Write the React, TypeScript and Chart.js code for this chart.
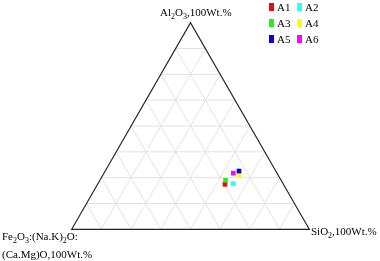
import React, { useEffect, useRef } from "react";
import { Chart, registerables } from "chart.js";

Chart.register(...registerables);

// Sample labels and ternary compositions (wt.%)
const sampleNames = ["A1", "A2", "A3", "A4", "A5", "A6"];
const al2o3 = [21.8, 22.1, 23.7, 26.3, 28.2, 27.2];
const sio2 = [53.6, 56.9, 52.9, 57.2, 56.3, 54.4];
const feNaCaMg = [24.6, 21.0, 23.4, 16.5, 15.5, 18.4];
const sampleColors = ["#ff0000", "#22ffff", "#22ee22", "#ffff00", "#0000ee", "#ff00ff"];

// grid fractions (ternary grid every 12.5%)
const gridFractions = [0.125, 0.25, 0.375, 0.5, 0.625, 0.75, 0.875];

// axis labels ("_n" marks a subscript digit)
const topLabel = "Al_2O_3,100Wt.%";
const rightLabel = "SiO_2,100Wt.%";
const leftLabelLines = ["Fe_2O_3:(Na.K)_2O:", "(Ca.Mg)O,100Wt.%"];

const H = Math.sqrt(3) / 2;

// ternary (a=top Al2O3, s=right SiO2) -> cartesian
function toXY(a: number, s: number, f: number) {
  const t = a + s + f;
  const A = a / t;
  const S = s / t;
  return { x: S + A / 2, y: A * H };
}

function parseRich(str: string): { t: string; sub: boolean }[] {
  const out: { t: string; sub: boolean }[] = [];
  let buf = "";
  for (let i = 0; i < str.length; i++) {
    if (str[i] === "_" && i + 1 < str.length) {
      if (buf) out.push({ t: buf, sub: false });
      buf = "";
      out.push({ t: str[i + 1], sub: true });
      i++;
    } else buf += str[i];
  }
  if (buf) out.push({ t: buf, sub: false });
  return out;
}

function drawRich(ctx: CanvasRenderingContext2D, str: string, x: number, y: number) {
  let cx = x;
  for (const p of parseRich(str)) {
    ctx.font = p.sub ? "8px 'Liberation Serif'" : "11px 'Liberation Serif'";
    ctx.fillText(p.t, cx, p.sub ? y + 3 : y);
    cx += ctx.measureText(p.t).width;
  }
}

const ternaryPlugin = {
  id: "ternary",
  beforeDatasetsDraw(chart: any) {
    const { ctx } = chart;
    const xs = chart.scales.x;
    const ys = chart.scales.y;
    const P = (x: number, y: number) => [xs.getPixelForValue(x), ys.getPixelForValue(y)];
    const line = (p: number[], q: number[]) => {
      ctx.beginPath();
      ctx.moveTo(p[0], p[1]);
      ctx.lineTo(q[0], q[1]);
      ctx.stroke();
    };
    ctx.save();
    ctx.strokeStyle = "#e2e2e2";
    ctx.lineWidth = 1;
    for (const g of gridFractions) {
      // constant Al2O3
      line(P(g / 2, g * H), P(1 - g / 2, g * H));
      // constant SiO2 (parallel to left edge)
      line(P(g, 0), P(g + (1 - g) / 2, (1 - g) * H));
      // constant Fe (parallel to right edge)
      line(P(g, 0), P(g / 2, g * H));
    }
    ctx.strokeStyle = "#222";
    ctx.lineWidth = 1.2;
    ctx.beginPath();
    const a = P(0, 0), b = P(1, 0), c = P(0.5, H);
    ctx.moveTo(a[0], a[1]);
    ctx.lineTo(b[0], b[1]);
    ctx.lineTo(c[0], c[1]);
    ctx.closePath();
    ctx.stroke();
    ctx.restore();
  },
  afterDraw(chart: any) {
    const { ctx } = chart;
    ctx.save();
    ctx.fillStyle = "#000";
    ctx.textBaseline = "alphabetic";
    ctx.textAlign = "left";
    drawRich(ctx, topLabel, 160, 16);
    drawRich(ctx, rightLabel, 311, 235);
    drawRich(ctx, leftLabelLines[0], 2, 240);
    drawRich(ctx, leftLabelLines[1], 2, 258);
    // legend
    sampleNames.forEach((n, i) => {
      const col = i % 2;
      const row = Math.floor(i / 2);
      const bx = col === 0 ? 269 : 297;
      const by = 11 + row * 16;
      ctx.fillStyle = sampleColors[i];
      ctx.fillRect(bx, by - 8, 5, 8);
      ctx.fillStyle = "#000";
      ctx.font = "11px 'Liberation Serif'";
      ctx.fillText(n, bx + 8, by);
    });
    ctx.restore();
  },
};

export default function App() {
  const ref = useRef<HTMLCanvasElement>(null);
  useEffect(() => {
    if (!ref.current) return;
    const order = [2, 0, 1, 4, 3, 5];
    const datasets = order.map((i) => ({
      label: sampleNames[i],
      data: [toXY(al2o3[i], sio2[i], feNaCaMg[i])],
      backgroundColor: sampleColors[i],
      borderColor: sampleColors[i],
      borderWidth: 0,
      pointStyle: "rect" as const,
      pointRadius: 3.3,
      clip: false as any,
    }));
    const chart = new Chart(ref.current, {
      type: "scatter",
      data: { datasets },
      options: {
        animation: false,
        responsive: false,
        layout: { padding: { left: 71.7, right: 70.7, top: 22.7, bottom: 31.7 } },
        scales: {
          x: { type: "linear", min: 0, max: 1, display: false },
          y: { type: "linear", min: 0, max: H, display: false },
        },
        plugins: { legend: { display: false }, tooltip: { enabled: false } },
      },
      plugins: [ternaryPlugin],
    });
    return () => chart.destroy();
  }, []);
  return (
    <div style={{ position: "absolute", left: 0, top: 0, width: 380, height: 261, background: "#fff" }}>
      <canvas ref={ref} width={380} height={261} />
    </div>
  );
}
